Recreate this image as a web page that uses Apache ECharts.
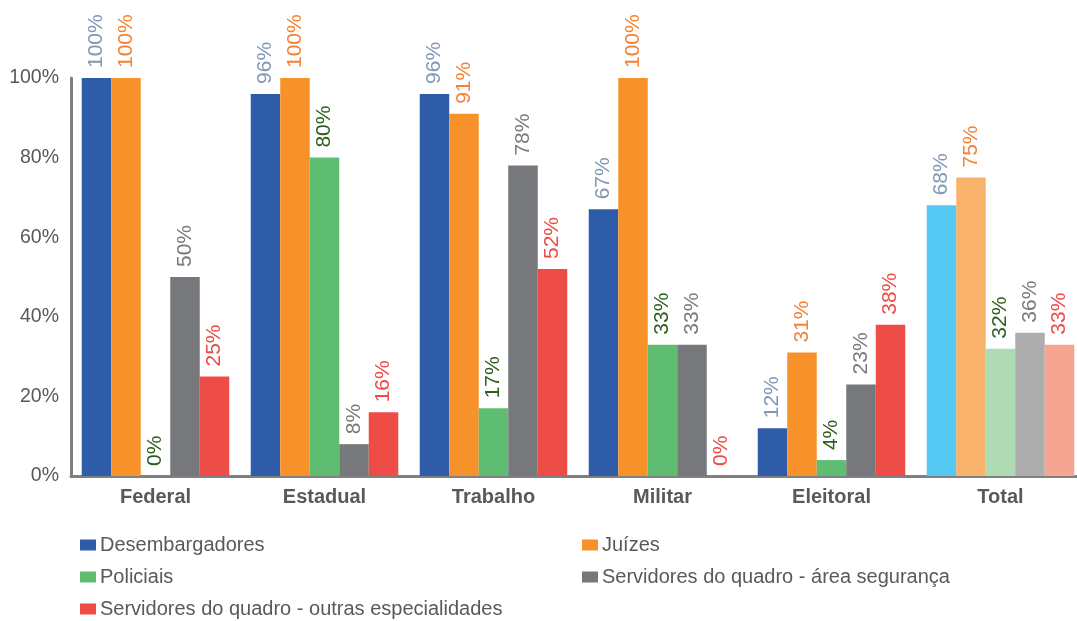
<!DOCTYPE html>
<html><head><meta charset="utf-8">
<script src="https://cdn.jsdelivr.net/npm/echarts@6/dist/echarts.min.js"></script>
<style>html,body{margin:0;padding:0;background:#fff}#c{width:1077px;height:621px}</style>
</head><body><div id="c"></div>
<script>
const categories = ['Federal','Estadual','Trabalho','Militar','Eleitoral','Total'];
const seriesNames = ['Desembargadores','Juízes','Policiais','Servidores do quadro - área segurança','Servidores do quadro - outras especialidades'];
const desembargadores = [100, 96, 96, 67, 12, 68];
const juizes = [100, 100, 91, 100, 31, 75];
const policiais = [0, 80, 17, 33, 4, 32];
const seguranca = [50, 8, 78, 33, 23, 36];
const outras = [25, 16, 52, 0, 38, 33];
const yTicks = [0, 20, 40, 60, 80, 100];

const colors = ['#2e5ca9','#f7922a','#5fbd72','#76787b','#ee4c46'];
const totalColors = ['#55c8f3','#fab36a','#b0dab3','#adadad','#f6a592'];
const labelColors = ['#8098b6','#f58233','#2e5e1e','#7a7a7a','#ee4b44'];
const values = [desembargadores, juizes, policiais, seguranca, outras];
const FONT = '"Liberation Sans", Arial, sans-serif';

const series = values.map((vals, i) => ({
  name: seriesNames[i],
  type: 'bar',
  barGap: 0,
  barCategoryGap: '12.7%',
  itemStyle: { color: colors[i] },
  data: vals.map((v, j) => j === categories.length - 1 ? { value: v, itemStyle: { color: totalColors[i] } } : v),
  label: {
    show: true, position: 'top', distance: 10, rotate: 90, align: 'left', verticalAlign: 'middle',
    formatter: p => p.value + '%', color: labelColors[i], fontSize: 21, fontFamily: FONT
  }
}));

const legendPos = [[80,535],[582,535],[80,567],[582,567],[80,599]];
const legends = seriesNames.map((n, i) => ({
  data: [n], left: legendPos[i][0], top: legendPos[i][1], padding: 0,
  itemWidth: 16, itemHeight: 11, itemGap: 6, icon: 'rect', selectedMode: false,
  textStyle: { fontFamily: FONT, fontSize: 20, color: '#595959', padding: [0,0,0,-1] }
}));

const chart = echarts.init(document.getElementById('c'), null, { renderer: 'canvas' });
chart.setOption({
  animation: false,
  color: colors,
  grid: { left: 71, width: 1014, top: 78, bottom: 145, containLabel: false, outerBoundsMode: 'none' },
  legend: legends,
  xAxis: {
    type: 'category', data: categories,
    axisLine: { lineStyle: { color: '#808080', width: 3 } },
    axisTick: { show: false },
    axisLabel: { fontFamily: FONT, fontSize: 20, fontWeight: 'bold', color: '#595959', margin: 11 }
  },
  yAxis: {
    type: 'value', min: yTicks[0], max: yTicks[yTicks.length-1], interval: 20,
    splitLine: { show: false },
    axisLine: { show: true, lineStyle: { color: '#808080', width: 3 } },
    axisTick: { show: false },
    axisLabel: { formatter: '{value}%', fontFamily: FONT, fontSize: 19.5, color: '#595959', margin: 12 }
  },
  series
});
</script></body></html>
